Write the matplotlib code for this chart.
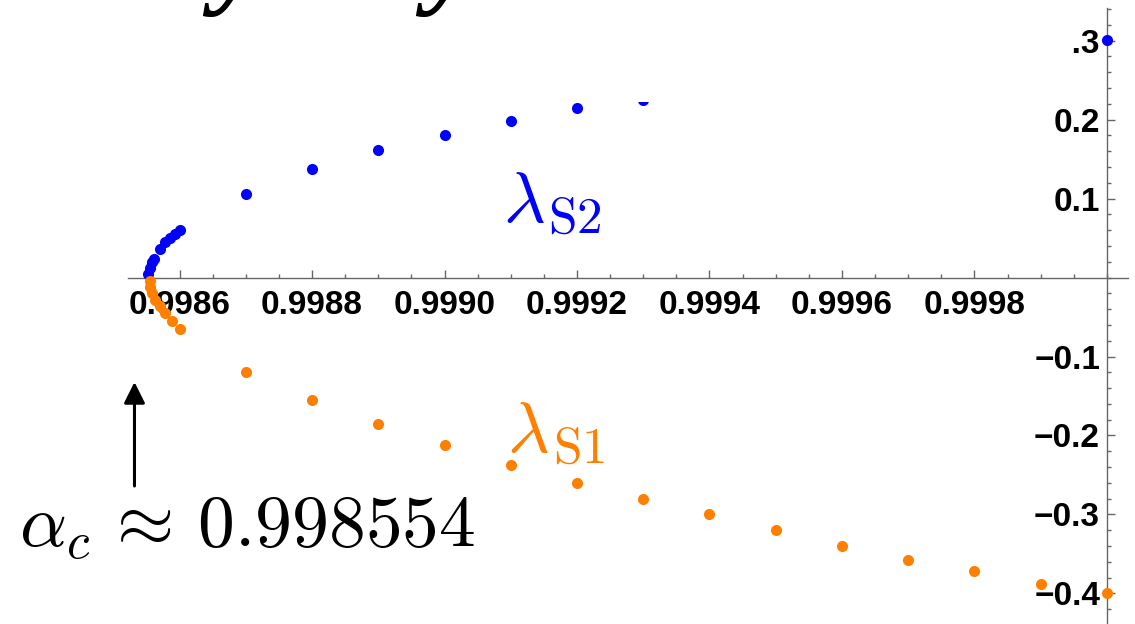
import numpy as np
import matplotlib.pyplot as plt
from matplotlib.patches import Rectangle
from matplotlib.ticker import MultipleLocator, FixedLocator, FuncFormatter

plt.rcParams['mathtext.fontset'] = 'cm'

# eigenvalue branches vs alpha
alpha_s2 = [0.998553, 0.998556, 0.998558, 0.998561, 0.998570, 0.998578,
            0.998585, 0.998593, 0.99860,
            0.9987, 0.9988, 0.9989, 0.9990, 0.9991, 0.9992, 0.9993, 1.0]
lam_s2 = [0.005, 0.012, 0.020, 0.024, 0.036, 0.045,
          0.050, 0.055, 0.060,
          0.106, 0.137, 0.161, 0.181, 0.198, 0.214, 0.225, 0.301]

alpha_s1 = [0.998555, 0.998556, 0.998558, 0.998563, 0.998570, 0.998578,
            0.998589, 0.99860,
            0.9987, 0.9988, 0.9989, 0.9990, 0.9991, 0.9992, 0.9993,
            0.9994, 0.9995, 0.9996, 0.9997, 0.9998, 0.9999, 1.0]
lam_s1 = [-0.005, -0.012, -0.020, -0.028, -0.036, -0.045,
          -0.055, -0.065,
          -0.120, -0.155, -0.185, -0.212, -0.237, -0.260, -0.280,
          -0.300, -0.320, -0.340, -0.357, -0.372, -0.388, -0.400]

alpha_c = 0.998554
xticks = [0.9986, 0.9988, 0.9990, 0.9992, 0.9994, 0.9996, 0.9998]
yticks = [-0.4, -0.3, -0.2, -0.1, 0.1, 0.2, 0.3]

BLUE = '#0000ff'
ORANGE = '#ff8000'
AXIS = '#666666'

fig = plt.figure(figsize=(11.35, 6.24), dpi=100)
ax = fig.add_axes([0, 0, 1, 1])
ax.set_xlim(0.998329, 1.0000423)
ax.set_ylim(-0.43861, 0.35127)

# axes crossing at (1, 0)
for s in ['top', 'right']:
    ax.spines[s].set_visible(False)
ax.spines['left'].set_position(('data', 1.0))
ax.spines['bottom'].set_position(('data', 0.0))
ax.spines['left'].set_bounds(-0.5, 0.341)
ax.spines['bottom'].set_bounds(0.998522, 1.0000317)
for s in ['left', 'bottom']:
    ax.spines[s].set_color(AXIS)
    ax.spines[s].set_linewidth(1.0)

ax.xaxis.set_major_locator(FixedLocator(xticks))
ax.xaxis.set_minor_locator(FixedLocator(np.arange(0.99855, 1.00001, 0.00005)))
ax.yaxis.set_major_locator(FixedLocator(yticks))
ax.yaxis.set_minor_locator(MultipleLocator(0.02))
ax.xaxis.set_major_formatter(FuncFormatter(lambda v, p: f'{v:.4f}'))
ax.yaxis.set_major_formatter(FuncFormatter(lambda v, p: f'{v:.1f}'.replace('-', '\u2212')))

ax.tick_params(axis='x', which='major', direction='in', length=5.5, width=1.0,
               color=AXIS, pad=9)
ax.tick_params(axis='x', which='minor', direction='in', length=3, width=1.0, color=AXIS)
ax.tick_params(axis='y', which='major', direction='in', length=5.5, width=1.0,
               color=AXIS, pad=5)
ax.tick_params(axis='y', which='minor', direction='in', length=3, width=1.0, color=AXIS)
for lab in ax.get_xticklabels() + ax.get_yticklabels():
    lab.set_fontfamily('Liberation Sans')
    lab.set_fontweight('bold')
    lab.set_fontsize(24)

ax.plot(alpha_s2, lam_s2, 'o', ms=8, color=BLUE, mec='none', zorder=3, clip_on=False)
ax.plot(alpha_s1, lam_s1, 'o', ms=8, color=ORANGE, mec='none', zorder=3, clip_on=False)


def branch_label(x, y, sub, color):
    # lambda with a roman subscript, subscript set a little larger than mathtext does
    ax.text(x, y, r'$\lambda$', color=color, fontsize=52, ha='left', va='baseline')
    ax.annotate(r'$\mathrm{%s}$' % sub, xy=(x, y), xytext=(32.5, -8),
                textcoords='offset points', color=color, fontsize=37,
                ha='left', va='baseline')


branch_label(0.999088, 0.0703, 'S2', BLUE)
branch_label(0.999095, -0.2209, 'S1', ORANGE)

ax.text(0.998357, -0.3411, r'$\alpha_c\,\approx\,%.6f$' % alpha_c, color='black',
        fontsize=53, ha='left', va='baseline')
ax.annotate('', xy=(0.998532, -0.1323), xytext=(0.998532, -0.2639),
            arrowprops=dict(arrowstyle='-|>', lw=2.2, color='black',
                            mutation_scale=32, shrinkA=0, shrinkB=0))

# white panel of the heading above the plot
fig.patches.append(Rectangle((0, 1 - 101.5 / 624), 1072 / 1135, 101.5 / 624,
                             transform=fig.transFigure, facecolor='white',
                             edgecolor='none', zorder=5))
for xpos in [213 / 1135, 426 / 1135]:
    fig.text(xpos, 1.0 + 6 / 624, 'y', fontsize=80, family='Liberation Serif',
             fontweight='bold', style='italic', ha='left', va='baseline', zorder=6)

fig.savefig('out.png', dpi=100)
